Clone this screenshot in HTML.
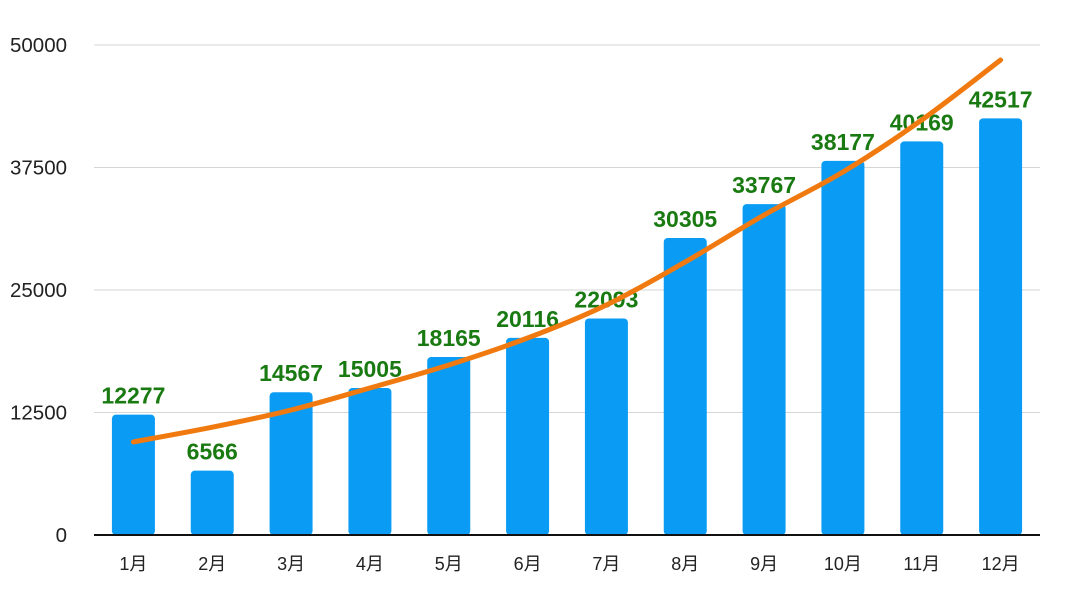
<!DOCTYPE html>
<html><head><meta charset="utf-8"><style>
body{margin:0;background:#fff;}
svg{display:block;font-family:"Liberation Sans","Noto Sans CJK SC",sans-serif;}
</style></head><body>
<svg id="chart" width="1080" height="607" viewBox="0 0 1080 607"></svg>
<script>
const categories=["1月","2月","3月","4月","5月","6月","7月","8月","9月","10月","11月","12月"];
const barValues=[12277,6566,14567,15005,18165,20116,22093,30305,33767,38177,40169,42517];
const trendValues=[9500,11000,12750,15000,17350,20100,23470,27860,32650,37040,42350,48470];
const yTicks=[0,12500,25000,37500,50000];
const NS="http://www.w3.org/2000/svg";
const svg=document.getElementById('chart');
const L=94,R=1040,T=45,B=535,yMax=50000;
const band=(R-L)/categories.length;
const x=i=>L+band*(i+0.5);
const y=v=>B-(v/yMax)*(B-T);
function mk(tag,attrs,parent){const e=document.createElementNS(NS,tag);for(const k in attrs)e.setAttribute(k,attrs[k]);(parent||svg).appendChild(e);return e;}
yTicks.forEach(t=>{
  if(t>0){const g=mk('line',{x1:L,x2:R,y1:y(t),y2:y(t),stroke:'#d6d6d6','stroke-width':1});
  
  }
  const tx=mk('text',{x:67,y:y(t)+7,'text-anchor':'end','font-size':20.5,fill:'#222'});
  tx.textContent=t;
  
  
});
barValues.forEach((v,i)=>{
  const w=43;
  const r=mk('rect',{x:x(i)-w/2,y:y(v),width:w,height:B-y(v),rx:4,fill:'#0a9cf5'});
  
  
  const lb=mk('text',{x:x(i),y:y(v)-11,'text-anchor':'middle','font-size':23,'font-weight':'bold',fill:'#1a7a12'});
  lb.textContent=v;
  
  
  const cl=mk('text',{x:x(i),y:570,'text-anchor':'middle','font-size':18,fill:'#222'});
  cl.textContent=categories[i];
  
  
});
const ax=mk('line',{x1:L,x2:R,y1:B,y2:B,stroke:'#111','stroke-width':2});


const pts=trendValues.map((v,i)=>[x(i),y(v)]);
let d='M'+pts[0][0]+','+pts[0][1];
for(let i=0;i<pts.length-1;i++){
  const p0=pts[Math.max(0,i-1)],p1=pts[i],p2=pts[i+1],p3=pts[Math.min(pts.length-1,i+2)];
  const c1=[p1[0]+(p2[0]-p0[0])/6,p1[1]+(p2[1]-p0[1])/6];
  const c2=[p2[0]-(p3[0]-p1[0])/6,p2[1]-(p3[1]-p1[1])/6];
  d+=` C${c1[0]},${c1[1]} ${c2[0]},${c2[1]} ${p2[0]},${p2[1]}`;
}
const tl=mk('path',{d:d,fill:'none',stroke:'#f07a10','stroke-width':5,'stroke-linecap':'round'});


</script>
</body></html>
